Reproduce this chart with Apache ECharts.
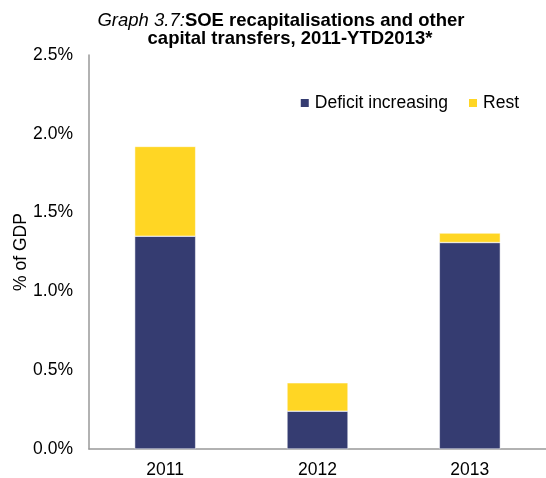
<!DOCTYPE html>
<html><head><meta charset="utf-8">
<script src="https://cdn.jsdelivr.net/npm/echarts@6/dist/echarts.min.js"></script>
<style>html,body{margin:0;padding:0;background:#fff}#c{width:546px;height:478px}</style>
</head><body><div id="c"></div>
<script>
var categories = ['2011', '2012', '2013'];
var deficitIncreasing = [1.35, 0.24, 1.31];
var rest = [0.57, 0.18, 0.06];
var yTicks = [0, 0.5, 1.0, 1.5, 2.0, 2.5];

var chart = echarts.init(document.getElementById('c'), null, {renderer: 'canvas'});
var font = 'Liberation Sans, Arial, sans-serif';
chart.setOption({
  animation: false,
  backgroundColor: '#fff',
  title: [{
    text: '{i|Graph 3.7:}{b|SOE recapitalisations and other}',
    left: 281, top: 11, textAlign: 'center', padding: 0,
    textStyle: {
      rich: {
        i: {fontStyle: 'italic', fontWeight: 'normal', fontSize: 18.5, fontFamily: font, color: '#000', lineHeight: 20},
        b: {fontWeight: 'bold', fontSize: 18.5, fontFamily: font, color: '#000', lineHeight: 20}
      }
    }
  }, {
    text: 'capital transfers, 2011-YTD2013*',
    left: 290, top: 29, textAlign: 'center', padding: 0,
    textStyle: {fontWeight: 'bold', fontSize: 18.5, fontFamily: font, color: '#000', lineHeight: 20}
  }],
  legend: {
    top: 89, right: 22,
    itemWidth: 10, itemHeight: 10, itemGap: 19,
    icon: 'rect',
    textStyle: {fontFamily: font, fontSize: 17.5, color: '#000'},
    data: ['Deficit increasing', 'Rest']
  },
  grid: {left: 89, right: 0, top: 55, bottom: 29, containLabel: false, outerBoundsMode: 'none'},
  xAxis: {
    type: 'category', data: categories,
    axisLine: {lineStyle: {color: '#999', width: 1.5}},
    axisTick: {show: false},
    axisLabel: {fontFamily: font, fontSize: 17.5, color: '#000', margin: 12}
  },
  yAxis: {
    type: 'value', min: 0, max: 2.5, interval: 0.5,
    name: '% of GDP', nameLocation: 'middle', nameGap: 59, nameRotate: 90, nameMoveOverlap: false,
    nameTextStyle: {fontFamily: font, fontSize: 17.5, color: '#000'},
    axisLine: {show: true, lineStyle: {color: '#999', width: 1.5}},
    axisTick: {show: false},
    splitLine: {show: false},
    axisLabel: {fontFamily: font, fontSize: 17.5, color: '#000', margin: 16,
      formatter: function (v) { return v.toFixed(1) + '%'; }}
  },
  series: [
    {name: 'Deficit increasing', type: 'bar', stack: 's', data: deficitIncreasing, barWidth: 61,
     itemStyle: {color: '#353C71', borderColor: '#fff', borderWidth: 0.5}},
    {name: 'Rest', type: 'bar', stack: 's', data: rest, barWidth: 61,
     itemStyle: {color: '#FFD624', borderColor: '#fff', borderWidth: 0.5}}
  ]
});
</script></body></html>
